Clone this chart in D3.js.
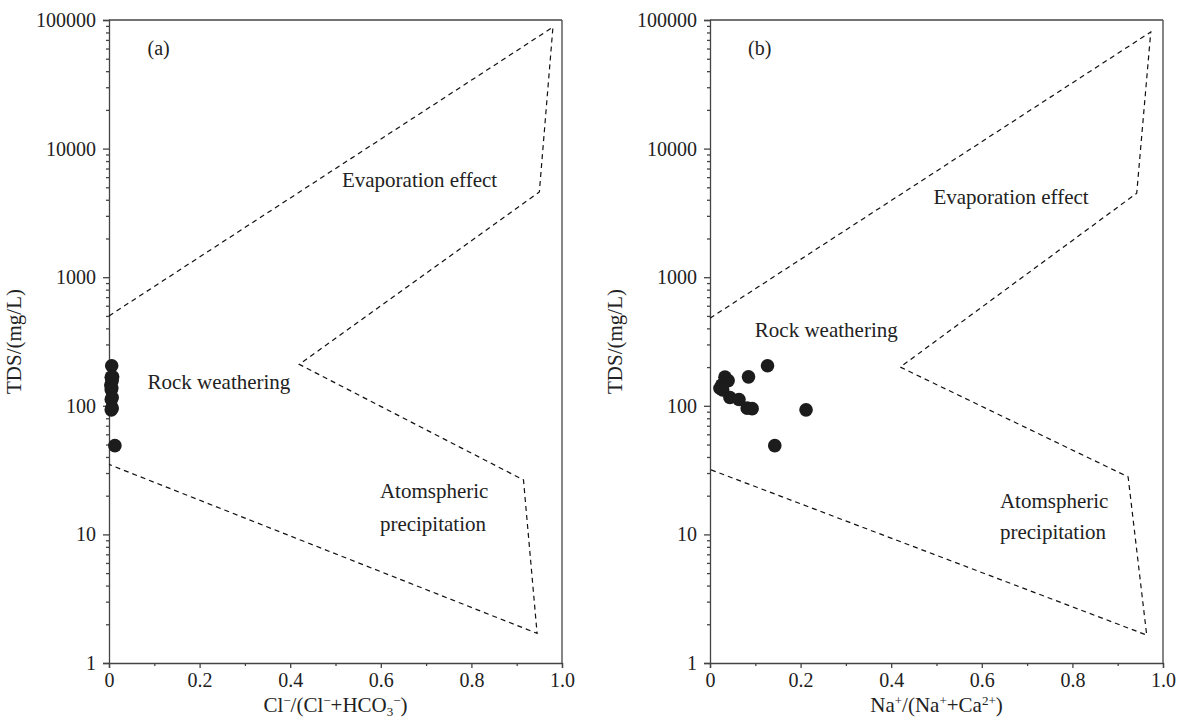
<!DOCTYPE html>
<head>
<meta charset="utf-8">
<script src="https://d3js.org/d3.v7.min.js"></script>
<style>
    body { margin: 0; background: #fff; }
    text { font-family: "Liberation Serif", "DejaVu Serif", serif; fill: #222; }
    .axis path, .axis line { stroke: #444; stroke-width: 1.3px; }
    .axis text { font-size: 20px; font-family: "Liberation Serif", serif; fill: #222; }
    .bound { fill: none; stroke: #111; stroke-width: 1.2px; stroke-dasharray: 5,4; }
</style>
</head>
<body>
<svg></svg>
<script>
    // ---- data ----
    var tds = [205, 168, 167, 157, 145, 137, 133, 116, 112, 96, 95, 93, 49];
    var clRatio = [0.006, 0.008, 0.005, 0.007, 0.004, 0.006, 0.005, 0.007, 0.005, 0.007, 0.006, 0.005, 0.013];
    var naRatio = [0.127, 0.085, 0.033, 0.040, 0.026, 0.022, 0.028, 0.044, 0.064, 0.082, 0.093, 0.212, 0.143];

    // gibbs envelope, one polyline per panel
    var boundA = [[0, 500], [0.98, 88000], [0.95, 4600], [0.42, 210], [0.915, 26.5], [0.945, 1.7], [0, 35]];
    var boundB = [[0, 480], [0.973, 80700], [0.942, 4500], [0.42, 200], [0.923, 28], [0.964, 1.65], [0, 32]];

    var yMajor = [1, 10, 100, 1000, 10000, 100000];
    var xMajor = [0, 0.2, 0.4, 0.6, 0.8, 1.0];
    var xLabels = ["0", "0.2", "0.4", "0.6", "0.8", "1.0"];

    var width = 1184, height = 721;
    var svg = d3.select("svg").attr("width", width).attr("height", height);

    var plotTop = 20, plotBottom = 663, plotW = 453;

    var y = d3.scaleLog().domain([1, 100000]).range([plotBottom, plotTop]);

    var yMinor = [];
    yMajor.slice(0, -1).forEach(function(d) {
        for (var k = 2; k <= 9; k++) yMinor.push(d * k);
    });

    var panels = [
        {left: 109, xs: clRatio, bound: boundA, tag: "(a)", tagX: 0.085,
         xTitle: [["Cl", 0], ["−", 1], ["/(Cl", 0], ["−", 1], ["+HCO", 0], ["3", -1], ["−", 1], [")", 0]],
         labels: [
            {t: "Evaporation effect", x: 0.857, v: 5000, anchor: "end"},
            {t: "Rock weathering", x: 0.085, v: 135, anchor: "start"},
            {t: "Atomspheric", x: 0.598, v: 19.2, anchor: "start"},
            {t: "precipitation", x: 0.598, v: 10.6, anchor: "start"}
         ]},
        {left: 710, xs: naRatio, bound: boundB, tag: "(b)", tagX: 0.084,
         xTitle: [["Na", 0], ["+", 1], ["/(Na", 0], ["+", 1], ["+Ca", 0], ["2+", 1], [")", 0]],
         labels: [
            {t: "Evaporation effect", x: 0.836, v: 3700, anchor: "end"},
            {t: "Rock weathering", x: 0.099, v: 340, anchor: "start"},
            {t: "Atomspheric", x: 0.64, v: 16, anchor: "start"},
            {t: "precipitation", x: 0.64, v: 9.2, anchor: "start"}
         ]}
    ];

    panels.forEach(function(p) {
        var x = d3.scaleLinear().domain([0, 1]).range([p.left, p.left + plotW]);
        var g = svg.append("g");

        // frame top + right
        g.append("line").attr("x1", x(0)).attr("x2", x(1)).attr("y1", plotTop).attr("y2", plotTop)
            .attr("stroke", "#444").attr("stroke-width", 1.3);
        g.append("line").attr("x1", x(1)).attr("x2", x(1)).attr("y1", plotTop).attr("y2", plotBottom)
            .attr("stroke", "#444").attr("stroke-width", 1.3);

        // y axis
        g.append("g").attr("class", "axis").attr("transform", "translate(" + x(0) + ",0)")
            .call(d3.axisLeft(y).tickValues(yMajor).tickSize(6).tickPadding(7).tickFormat(d3.format("d")));
        g.append("g").attr("class", "axis").attr("transform", "translate(" + x(0) + ",0)")
            .call(d3.axisLeft(y).tickValues(yMinor).tickSize(3).tickFormat(""))
            .select(".domain").remove();

        // x axis
        g.append("g").attr("class", "axis").attr("transform", "translate(0," + plotBottom + ")")
            .call(d3.axisBottom(x).tickValues(xMajor).tickSize(5).tickPadding(5)
                .tickFormat(function(d, j) { return xLabels[j]; }));
        g.append("g").attr("class", "axis").attr("transform", "translate(0," + plotBottom + ")")
            .call(d3.axisBottom(x).tickValues([0.1, 0.3, 0.5, 0.7, 0.9]).tickSize(3).tickFormat(""))
            .select(".domain").remove();

        // envelope
        var line = d3.line().x(function(d) { return x(d[0]); }).y(function(d) { return y(d[1]); });
        g.append("path").attr("class", "bound").attr("d", line(p.bound));

        // points
        g.selectAll("circle").data(tds).enter().append("circle")
            .attr("cx", function(d, j) { return x(p.xs[j]); })
            .attr("cy", function(d) { return y(d); })
            .attr("r", 6.8)
            .attr("fill", "#1c1c1c");

        // region labels
        g.selectAll(".lab").data(p.labels).enter().append("text")
            .attr("class", "lab")
            .attr("x", function(d) { return x(d.x); })
            .attr("y", function(d) { return y(d.v); })
            .attr("text-anchor", function(d) { return d.anchor; })
            .style("font-size", "21px")
            .text(function(d) { return d.t; });

        g.append("text").attr("x", x(p.tagX)).attr("y", 55).style("font-size", "20px").text(p.tag);

        // y title
        g.append("text")
            .attr("transform", "translate(" + (x(0) - 88) + "," + ((plotTop + plotBottom) / 2) + ") rotate(-90)")
            .attr("text-anchor", "middle")
            .style("font-size", "21px")
            .text("TDS/(mg/L)");

        // x title with super/subscripts
        var xt = g.append("text")
            .attr("x", x(0.5)).attr("y", 712)
            .attr("text-anchor", "middle")
            .style("font-size", "21px");
        var prevShift = 0;
        p.xTitle.forEach(function(s) {
            var shift = s[1] === 1 ? -7 : (s[1] === -1 ? 4 : 0);
            var ts = xt.append("tspan").text(s[0]).attr("dy", (shift - prevShift) + "px");
            if (s[1] !== 0) ts.style("font-size", "13px");
            prevShift = shift;
        });
    });
</script>
</body>
